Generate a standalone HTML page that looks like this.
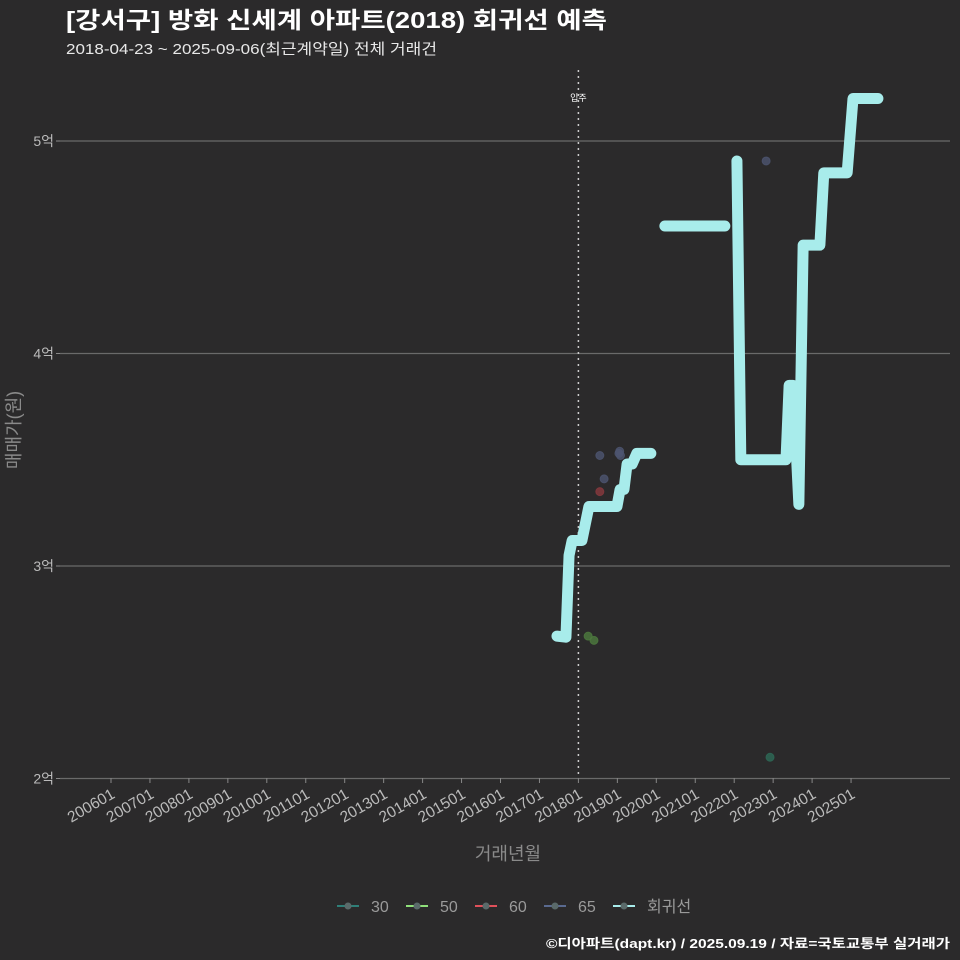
<!DOCTYPE html>
<html><head><meta charset="utf-8"><style>
html,body{margin:0;padding:0;background:#2b2a2b;}
svg{display:block;font-family:"Liberation Sans","Noto Sans CJK KR",sans-serif;}
</style></head><body>
<svg id="chart" width="960" height="960" viewBox="0 0 960 960">
<rect width="960" height="960" fill="#2b2a2b"/>
<text x="66" y="28" fill="#ffffff" font-size="23" font-weight="bold" textLength="541" lengthAdjust="spacingAndGlyphs">[강서구] 방화 신세계 아파트(2018) 회귀선 예측</text>
<text x="66" y="54" fill="#e8e8e8" font-size="15" textLength="371" lengthAdjust="spacingAndGlyphs">2018-04-23 ~ 2025-09-06(최근계약일) 전체 거래건</text>
<g id="grid"></g>
<g id="xaxis"></g>
<g id="yaxis"></g>
<text x="0" y="0" transform="translate(20,430) rotate(-90)" text-anchor="middle" fill="#8a8a8a" font-size="18">매매가(원)</text>
<text x="508" y="860" text-anchor="middle" fill="#8a8a8a" font-size="18">거래년월</text>
<g id="marks"></g>
<g id="legend"></g>
<text x="950" y="948" text-anchor="end" fill="#ffffff" font-size="13" font-weight="bold" textLength="404" lengthAdjust="spacingAndGlyphs">©디아파트(dapt.kr) / 2025.09.19 / 자료=국토교통부 실거래가</text>
</svg>
<script>
const yTicks=[2,3,4,5];
const yTickLabels=["2억","3억","4억","5억"];
const xTickYears=[2006,2007,2008,2009,2010,2011,2012,2013,2014,2015,2016,2017,2018,2019,2020,2021,2022,2023,2024,2025];
const xTickLabels=["200601","200701","200801","200901","201001","201101","201201","201301","201401","201501","201601","201701","201801","201901","202001","202101","202201","202301","202401","202501"];
const moveInYear=2018.0;
const reg1X=[2017.45,2017.68,2017.76,2017.84,2018.09,2018.27,2018.99,2019.07,2019.17,2019.25,2019.38,2019.5,2019.86];
const reg1Y=[2.67,2.665,3.05,3.12,3.12,3.28,3.28,3.36,3.36,3.48,3.48,3.53,3.53];
const reg2X=[2020.22,2021.76];
const reg2Y=[4.60,4.60];
const reg3X=[2022.07,2022.17,2023.33,2023.41,2023.51,2023.66,2023.77,2024.2,2024.3,2024.9,2025.05,2025.69];
const reg3Y=[4.906,3.50,3.50,3.85,3.85,3.29,4.51,4.51,4.85,4.85,5.2,5.2];
const p30X=[2022.92], p30Y=[2.10];
const p50X=[2018.25,2018.4], p50Y=[2.67,2.65];
const p60X=[2018.55], p60Y=[3.35];
const p65X=[2018.55,2018.66,2019.04,2019.08,2019.06,2022.82], p65Y=[3.52,3.41,3.53,3.52,3.54,4.906];

const NS="http://www.w3.org/2000/svg";
const X=y=>111+(y-2006)*38.95;
const Y=v=>141+(5-v)*212.5;
function mk(tag,attrs,parent){const e=document.createElementNS(NS,tag);for(const k in attrs)e.setAttribute(k,attrs[k]);parent.appendChild(e);return e;}
const grid=document.getElementById('grid'),xa=document.getElementById('xaxis'),ya=document.getElementById('yaxis'),marks=document.getElementById('marks'),leg=document.getElementById('legend');
yTicks.forEach((v,i)=>{
 const l=mk('line',{x1:60,x2:950,y1:Y(v),y2:Y(v),stroke:'#6a6a6a','stroke-width':1.2},grid);
 
 
 const t=mk('line',{x1:56,x2:60,y1:Y(v),y2:Y(v),stroke:'#888'},ya);
 
 
 const tx=mk('text',{x:54,y:Y(v)+5,'text-anchor':'end',fill:'#bbbbbb','font-size':14},ya);
 tx.textContent=yTickLabels[i];
 
 
});
xTickYears.forEach((yr,i)=>{
 const x=X(yr);
 const t=mk('line',{x1:x,x2:x,y1:778,y2:783,stroke:'#888'},xa);
 
 
 const tx=mk('text',{x:0,y:0,'text-anchor':'end',fill:'#bbbbbb','font-size':15.5,transform:`translate(${x+5},${797}) rotate(-30)`},xa);
 tx.textContent=xTickLabels[i];
 
 
});
const mv=mk('line',{x1:X(moveInYear),x2:X(moveInYear),y1:70,y2:778,stroke:'#cccccc','stroke-width':1.5,'stroke-dasharray':'2,4'},marks);


const mvt=mk('text',{x:X(moveInYear),y:101,'text-anchor':'middle',fill:'#ffffff','font-size':9},marks);
mvt.textContent='입주';


function pts(xs,ys,color,op,name){xs.forEach((x,i)=>{const c=mk('circle',{cx:X(x),cy:Y(ys[i]),r:4,fill:color,'fill-opacity':op,stroke:color,'stroke-opacity':op},marks);
 
 });}
pts(p30X,p30Y,'#2e6a58',0.8,'point-30');
pts(p50X,p50Y,'#4e7a3e',0.8,'point-50');
pts(p60X,p60Y,'#8a3a3e',0.8,'point-60');
pts(p65X,p65Y,'#4e5570',0.8,'point-65');
[[reg1X,reg1Y],[reg2X,reg2Y],[reg3X,reg3Y]].forEach(([xs,ys])=>{
 const p=mk('polyline',{points:xs.map((x,i)=>X(x)+','+Y(ys[i])).join(' '),fill:'none',stroke:'#a8eceb','stroke-width':11,'stroke-linejoin':'round','stroke-linecap':'round'},marks);
 
 
});
const legItems=[['30','#2e7f78'],['50','#8fe07a'],['60','#e0505a'],['65','#5a6a90'],['회귀선','#a8eceb']];
const legX=[337,406,475,544,613];
legItems.forEach((it,i)=>{
 const g=mk('g',{},leg);
 
 
 const x=legX[i];
 mk('line',{x1:x,x2:x+22,y1:906,y2:906,stroke:it[1],'stroke-width':2},g);
 mk('circle',{cx:x+11,cy:906,r:3.5,fill:'#5a6a6a'},g);
 const t=mk('text',{x:x+34,y:912,fill:'#9a9a9a','font-size':16},g);
 t.textContent=it[0];
});
</script>
</body></html>
